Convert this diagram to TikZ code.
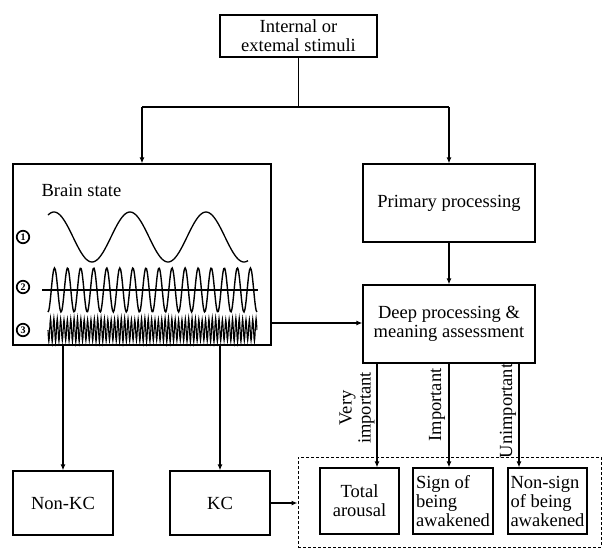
\documentclass[tikz,border=0pt]{standalone}
\usepackage{fontspec}
\setmainfont{Liberation Serif}
\usetikzlibrary{arrows.meta}
\begin{document}
\begin{tikzpicture}[x=1pt,y=-1pt,line width=1.2pt,
  txt/.style={font=\fontsize{18.5}{19}\selectfont},
  box/.style={draw,rectangle,inner sep=0pt,align=center,txt},
  arr/.style={-{Latex[length=6pt,width=5pt]}},
  num/.style={circle,draw,line width=1.7pt,inner sep=0pt,minimum size=12.5pt,font=\bfseries\fontsize{10}{10}\selectfont},
  lab/.style={txt,rotate=90,align=center,inner sep=0pt}]
\useasboundingbox (0,0) rectangle (604,549);
% nodes
\node[box,minimum width=157pt,minimum height=42pt] (top) at (298.5,36) {Internal or\\extemal stimuli};
\node[box,minimum width=258pt,minimum height=181pt] (brain) at (142,254.5) {};
\node[box,minimum width=172pt,minimum height=78pt] (prim) at (449,203) {Primary processing};
\node[box,minimum width=172pt,minimum height=78pt] (deep) at (449,324) {Deep processing \&\\meaning assessment};
\node[box,minimum width=100pt,minimum height=64pt] (nonkc) at (63,503) {Non-KC};
\node[box,minimum width=100pt,minimum height=64pt] (kc) at (220,503) {KC};
\node[draw,dash pattern=on 3pt off 2pt,line width=1pt,minimum width=303pt,minimum height=90pt,inner sep=0pt] (out) at (449.5,502) {};
\node[box,minimum width=79pt,minimum height=66pt] (total) at (359.5,501) {Total\\arousal};
\node[box,minimum width=80pt,minimum height=66pt,align=left] (sign) at (453,501) {Sign of\\being\\awakened};
\node[box,minimum width=79pt,minimum height=66pt,align=left] (nonsign) at (547.5,501) {Non-sign\\of being\\awakened};
% brain state contents
\node[txt,anchor=west,inner sep=0pt] (bs) at (41,190) {Brain state};
\node[num] (n1) at (23,237) {1};
\node[num] (n2) at (23,287) {2};
\node[num] (n3) at (23,330) {3};
\draw[line width=1.3pt,smooth] plot[domain=48:248,samples=120] (\x,{237-25*cos(4.7368*(\x-130))});
\draw[line width=1.3pt] (42,290) -- (258,290);
\draw[line width=1.4pt,smooth] plot[domain=0:16,samples=260] ({48+13.06*\x},{290+22*cos(360*\x)});
\draw[line width=1.1pt] plot[domain=0:62,samples=497] ({48+3.37*\x},{330+(11.5+0.8*sin(53*\x))*sin(360*(\x-floor(\x)))});
% connectors
\coordinate (j) at (top.south |- 0,107);
\draw (top.south) -- (j);
\draw (j) -- (brain.north |- j);
\draw (j) -- (prim.north |- j);
\draw[arr] (brain.north |- j) -- (brain.north);
\draw[arr] (prim.north |- j) -- (prim.north);
\draw[arr] (prim.south) -- (deep.south |- deep.north);
\coordinate (b1) at (brain.east |- 0,323);
\draw[arr] (b1) -- (b1 -| deep.west);
\draw[arr] (brain.south -| nonkc.north) -- (nonkc.north);
\draw[arr] (brain.south -| kc.north) -- (kc.north);
\draw[arr] (kc.east) -- (kc.east -| out.west);
\coordinate (d1) at (377,0);
\coordinate (d2) at (449,0);
\coordinate (d3) at (519,0);
\draw[arr] (d1 |- deep.south) -- (d1 |- total.north);
\draw[arr] (d2 |- deep.south) -- (d2 |- sign.north);
\draw[arr] (d3 |- deep.south) -- (d3 |- nonsign.north);
\node[lab] (l1) at (357,408) {Very\\important};
\node[lab] (l2) at (437,405) {Important};
\node[lab] (l3) at (508,411) {Unimportant};
\end{tikzpicture}
\end{document}
